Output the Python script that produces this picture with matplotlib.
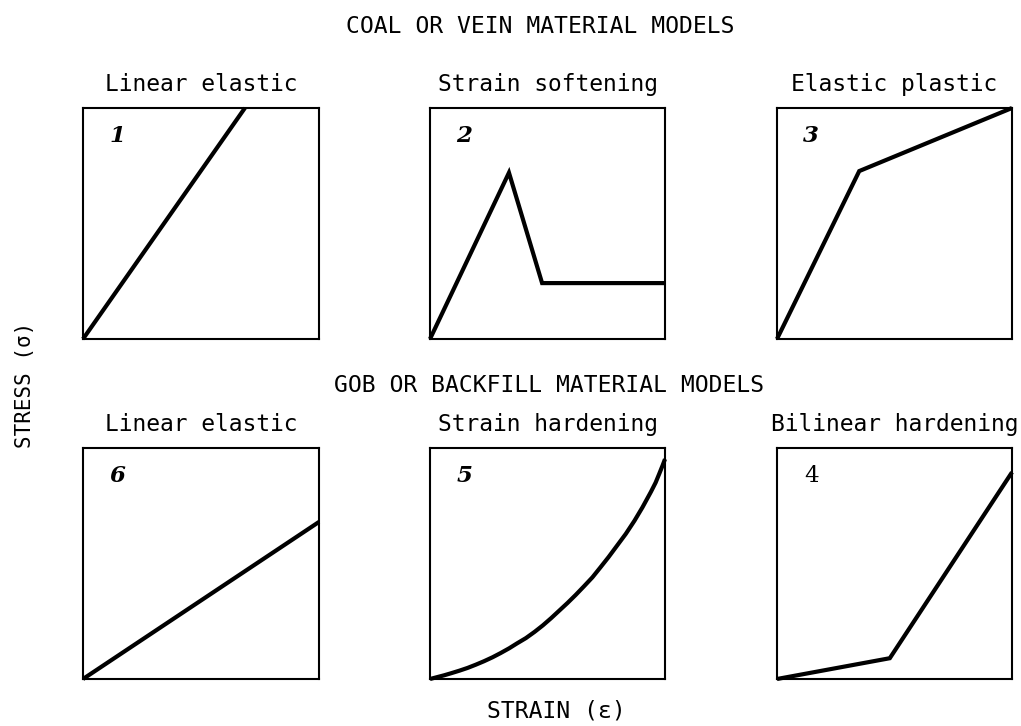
import matplotlib
matplotlib.use("Agg")
import matplotlib.pyplot as plt

# ---------------- data (normalised strain / stress) ----------------
row_headers = ["COAL OR VEIN MATERIAL MODELS", "GOB OR BACKFILL MATERIAL MODELS"]
panel_titles = ["Linear elastic", "Strain softening", "Elastic plastic",
                "Linear elastic", "Strain hardening", "Bilinear hardening"]
panel_numbers = ["1", "2", "3", "6", "5", "4"]

strain_1 = [0.0, 0.686]
stress_1 = [0.0, 1.0]

strain_2 = [0.0, 0.336, 0.477, 1.0]
stress_2 = [0.0, 0.72, 0.242, 0.242]

strain_3 = [0.0, 0.35, 1.0]
stress_3 = [0.0, 0.727, 1.0]

strain_6 = [0.0, 1.0]
stress_6 = [0.0, 0.68]

strain_5 = [0.0, 0.03, 0.06, 0.09, 0.125, 0.16, 0.195, 0.23, 0.266, 0.30, 0.337, 0.37, 0.408,
            0.445, 0.48, 0.515, 0.55, 0.585, 0.62, 0.655, 0.691, 0.725, 0.76, 0.795,
            0.833, 0.87, 0.904, 0.94, 0.96, 0.975, 0.99, 1.0]
stress_5 = [0.0, 0.008, 0.016, 0.025, 0.036, 0.048, 0.062, 0.077, 0.094, 0.112, 0.133, 0.154, 0.177,
            0.204, 0.232, 0.263, 0.296, 0.329, 0.364, 0.401, 0.44, 0.483, 0.528, 0.576,
            0.628, 0.685, 0.743, 0.81, 0.85, 0.887, 0.925, 0.952]

strain_4 = [0.0, 0.48, 1.0]
stress_4 = [0.0, 0.09, 0.895]

x_label = "STRAIN (ε)"
y_label = "STRESS (σ)"

series = [(strain_1, stress_1), (strain_2, stress_2), (strain_3, stress_3),
          (strain_6, stress_6), (strain_5, stress_5), (strain_4, stress_4)]

# ---------------- layout ----------------
W, H = 1021, 726
fig = plt.figure(figsize=(W / 100, H / 100), dpi=100)
fig.patch.set_facecolor("white")

def fx(x):
    return x / W

def fy(y):
    return 1 - y / H

col_px = [(83, 319), (430, 665), (777, 1012)]
row_px = [(108, 339), (448, 679)]
title_baseline = [91, 431]
header_baseline = [33, 392]
header_cx = [540, 549]

mono = "DejaVu Sans Mono"
number_styles = ["italic", "italic", "italic", "italic", "italic", "normal"]
number_weights = ["bold", "bold", "bold", "bold", "bold", "normal"]

for i, (xs, ys) in enumerate(series):
    r, c = divmod(i, 3)
    x0, x1 = col_px[c]
    y0, y1 = row_px[r]
    ax = fig.add_axes([fx(x0), fy(y1), (x1 - x0) / W, (y1 - y0) / H])
    ax.set_xlim(0, 1)
    ax.set_ylim(0, 1)
    ax.set_xticks([])
    ax.set_yticks([])
    for s in ax.spines.values():
        s.set_linewidth(1.5)
        s.set_color("black")
    ax.plot(xs, ys, color="black", lw=3.0, clip_on=False,
            solid_joinstyle="miter", solid_capstyle="butt")
    ax.text(0.145, 0.88, panel_numbers[i], transform=ax.transAxes,
            ha="center", va="center", fontsize=16.5, family="DejaVu Serif",
            style=number_styles[i], weight=number_weights[i], color="black")
    fig.text(fx((x0 + x1) / 2), fy(title_baseline[r]), panel_titles[i],
             ha="center", va="baseline", fontsize=16.5, family=mono, color="black")

for r in range(2):
    fig.text(fx(header_cx[r]), fy(header_baseline[r]), row_headers[r],
             ha="center", va="baseline", fontsize=16.6, family=mono, color="black")

fig.text(fx(556), fy(717), x_label, ha="center", va="baseline",
         fontsize=16.6, family=mono, color="black")
fig.text(fx(25), fy(385), y_label, ha="center", va="center", rotation=90,
         fontsize=15, family=mono, color="black")

fig.savefig("out.png", dpi=100, facecolor="white")
